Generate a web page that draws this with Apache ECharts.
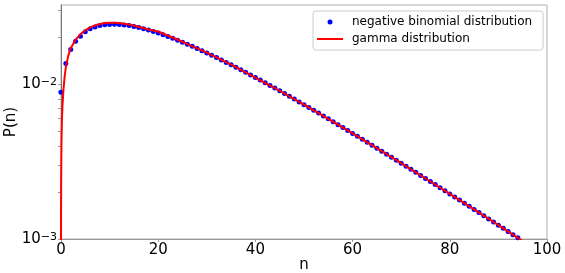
<!DOCTYPE html>
<html>
<head>
<meta charset="utf-8">
<script src="https://cdn.jsdelivr.net/npm/echarts@6/dist/echarts.min.js"></script>
<style>
html,body{margin:0;padding:0;background:#fff;}
#c{width:565px;height:273px;}
</style>
</head>
<body>
<div id="c"></div>
<script>
// negative binomial distribution, P(n) for n = 0, 1, 2, ...
var nbP = [
0.00888, 0.01360, 0.01674, 0.01894, 0.02040, 0.02182, 0.02281, 0.02343, 0.02392, 0.02421,
0.02435, 0.02438, 0.02433, 0.02418, 0.02393, 0.02363, 0.02327, 0.02286, 0.02240, 0.02193,
0.02142, 0.02090, 0.02035, 0.01980, 0.01925, 0.01869, 0.01813, 0.01757, 0.01702, 0.01647,
0.01593, 0.01539, 0.01487, 0.01435, 0.01384, 0.01335, 0.01286, 0.01239, 0.01193, 0.01148,
0.01105, 0.01063, 0.01022, 0.00982, 0.00944, 0.00906, 0.00870, 0.00836, 0.00802, 0.00769,
0.00738, 0.00708, 0.00679, 0.00651, 0.00624, 0.00598, 0.00573, 0.00548, 0.00525, 0.00503,
0.00481, 0.00461, 0.00441, 0.00422, 0.00404, 0.00386, 0.00369, 0.00353, 0.00338, 0.00323,
0.00309, 0.00295, 0.00282, 0.00270, 0.002575, 0.00246, 0.00235, 0.002246, 0.002145, 0.002049,
0.001956, 0.001868, 0.001784, 0.001703, 0.001626, 0.001552, 0.001481, 0.001414, 0.001349, 0.001287,
0.001228, 0.001172, 0.001118, 0.001066, 0.001017, 0.000970, 0.000925, 0.000882, 0.000841, 0.000802
];
// gamma distribution curve
var gammaX = [0.003, 0.01, 0.03, 0.1, 0.2, 0.3, 0.5, 0.75, 1, 1.5, 2, 3, 4, 5, 6, 7, 8, 9, 10, 11, 12, 14, 16, 18, 20, 25, 30, 35, 40, 45, 50, 55, 60, 65, 70, 75, 80, 85, 90, 95, 100];
var gammaY = [0.0008, 0.0014, 0.0024, 0.0043, 0.0060, 0.0072, 0.0092, 0.0112, 0.0129, 0.0153, 0.0171, 0.0194, 0.0210, 0.0223, 0.0233, 0.0240, 0.0245, 0.0249, 0.0250, 0.0250, 0.0249, 0.0243, 0.0235, 0.0226, 0.0219, 0.0188, 0.0160, 0.01337, 0.01105, 0.00906, 0.00738, 0.00598, 0.00481, 0.00386, 0.00309, 0.00246, 0.001956, 0.001552, 0.001228, 0.000970, 0.00077];
var xTicks = [0, 20, 40, 60, 80, 100];
var yMajor = [0.001, 0.01];
var yMinor = [0.002, 0.003, 0.004, 0.005, 0.006, 0.007, 0.008, 0.009, 0.02, 0.03];
var seriesNames = ['negative binomial distribution', 'gamma distribution'];

var FONT = 'DejaVu Sans';
var chart = echarts.init(document.getElementById('c'), null, {renderer: 'canvas'});
var nbData = nbP.map(function (v, i) { return [i, v]; });
var gData = gammaX.map(function (x, i) { return [x, gammaY[i]]; });

chart.setOption({
  animation: false,
  backgroundColor: '#ffffff',
  grid: {left: 61, right: 18, top: 5, bottom: 34, containLabel: false, outerBoundsMode: 'none',
         show: true, borderColor: '#b0b0b0', borderWidth: 1, backgroundColor: 'transparent'},
  legend: {
    orient: 'vertical',
    left: 313, top: 11,
    padding: [4, 11, 4, 4],
    itemGap: 3,
    itemWidth: 26, itemHeight: 5,
    backgroundColor: 'rgba(255,255,255,0.8)',
    borderColor: '#cccccc', borderWidth: 1, borderRadius: 3,
    textStyle: {fontFamily: FONT, fontSize: 12, color: '#000', lineHeight: 14, padding: [0, 0, 0, 4]},
    data: [
      {name: seriesNames[0], icon: 'circle'},
      {name: seriesNames[1], icon: 'path://M0,0H26V2H0Z'}
    ]
  },
  xAxis: {
    type: 'value', min: xTicks[0], max: xTicks[xTicks.length - 1], interval: 20,
    name: 'n', nameLocation: 'middle', nameGap: 19, nameMoveOverlap: false,
    nameTextStyle: {fontFamily: FONT, fontSize: 15, color: '#000'},
    axisLine: {show: true, lineStyle: {color: '#999', width: 1}},
    axisTick: {show: true, length: 3, lineStyle: {color: '#999'}},
    axisLabel: {fontFamily: FONT, fontSize: 15, color: '#000', margin: 4},
    splitLine: {show: false}
  },
  yAxis: {
    type: 'log', logBase: 10, min: yMajor[0], max: 0.0325,
    name: 'P(n)', nameLocation: 'middle', nameGap: 42, nameMoveOverlap: false,
    nameTextStyle: {fontFamily: FONT, fontSize: 15, color: '#000'},
    axisLine: {show: true, lineStyle: {color: '#777', width: 1}},
    axisTick: {show: true, length: 3, lineStyle: {color: '#999'}, customValues: yMajor.concat(yMinor)},
    axisLabel: {
      margin: 4,
      showMaxLabel: false,
      hideOverlap: false,
      formatter: function (v) {
        var e = Math.round(Math.log(v) / Math.LN10);
        if (Math.abs(Math.pow(10, e) - v) / v > 1e-6) return '';
        return '{b|10}{s|\u2212' + Math.abs(e) + '}';
      },
      rich: {
        b: {fontFamily: FONT, fontSize: 15, lineHeight: 15, color: '#000'},
        s: {fontFamily: FONT, fontSize: 11, lineHeight: 6, verticalAlign: 'top', color: '#000'}
      }
    },
    splitLine: {show: false},
    minorTick: {show: false}
  },
  series: [
    {
      name: seriesNames[0], type: 'scatter', data: nbData,
      symbol: 'circle', symbolSize: 5, clip: true,
      itemStyle: {color: '#0000ff', opacity: 1}, z: 2
    },
    {
      name: seriesNames[1], type: 'line', data: gData,
      showSymbol: false, clip: true, smooth: false,
      color: '#ff0000',
      lineStyle: {color: '#ff0000', width: 2}, itemStyle: {color: '#ff0000'}, z: 3
    }
  ]
});
</script>
</body>
</html>
